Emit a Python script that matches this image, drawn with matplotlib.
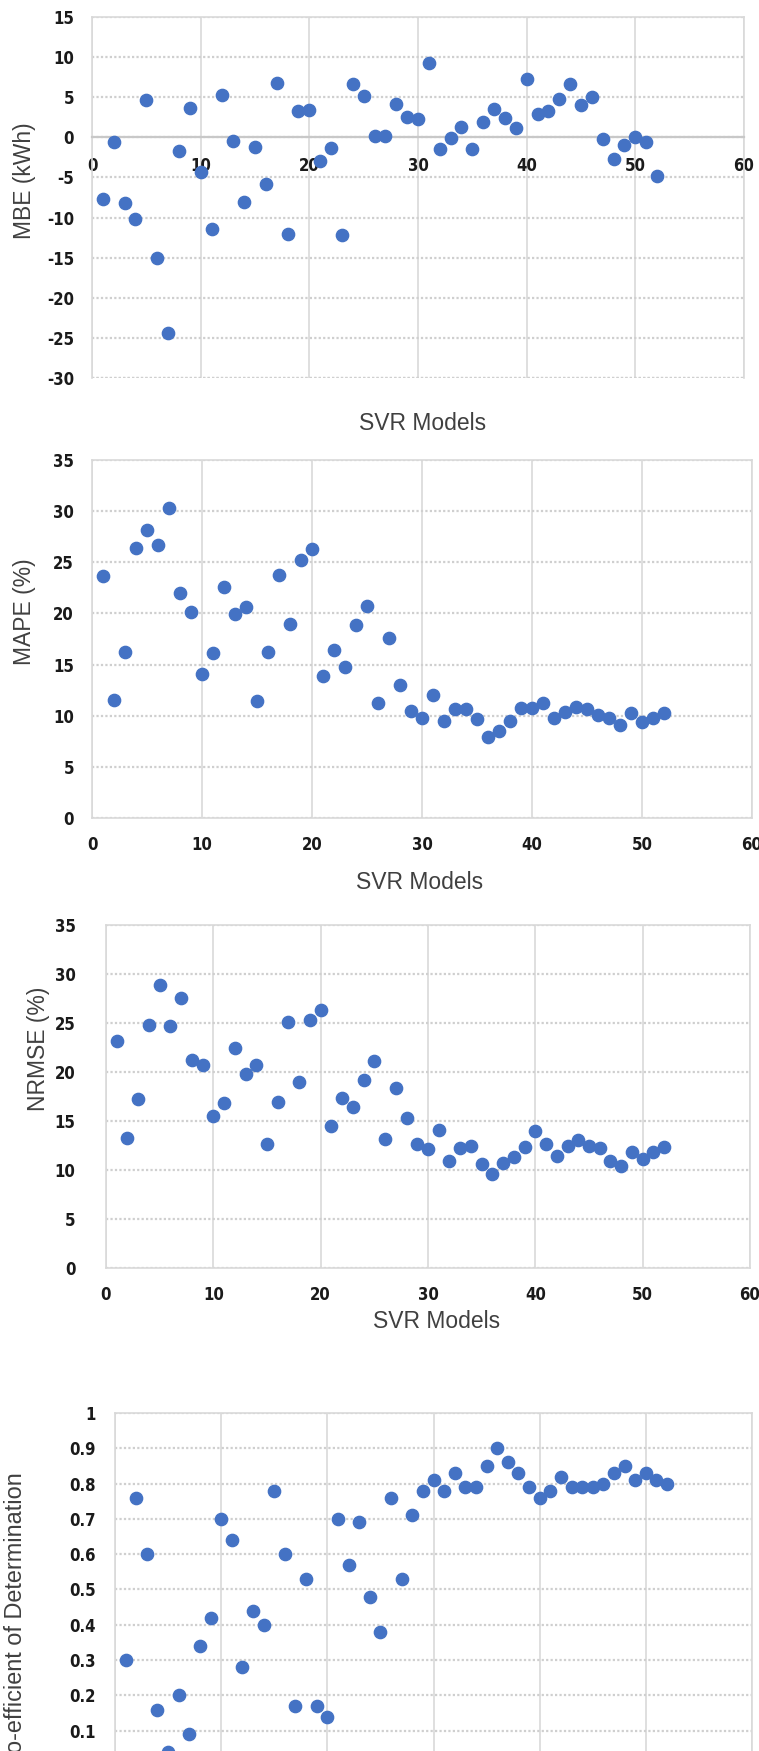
# SVR model error metrics, four stacked Excel-style scatter panels
import matplotlib.pyplot as plt
import numpy as np
from matplotlib.font_manager import FontProperties

plt.rcParams['axes.unicode_minus'] = False

models = list(range(1, 53))

mbe = [-7.7, -0.6, -8.2, -10.2, 4.6, -15.0, -24.4, -1.7, 3.6, -4.3,
       -11.4, 5.3, -0.4, -8.0, -1.2, -5.8, 6.8, -12.1, 3.3, 3.4,
       -2.9, -1.3, -12.2, 6.7, 5.1, 0.2, 0.2, 4.2, 2.5, 2.3,
       9.3, -1.4, -0.1, 1.3, -1.4, 1.9, 3.5, 2.4, 1.2, 7.3,
       2.9, 3.3, 4.8, 6.7, 4.0, 5.0, -0.2, -2.7, -1.0, 0.1,
       -0.6, -4.8]

mape = [23.7, 11.5, 16.2, 26.4, 28.2, 26.7, 30.3, 22.0, 20.1, 14.1,
        16.1, 22.6, 19.9, 20.6, 11.4, 16.2, 23.8, 19.0, 25.2, 26.3,
        13.9, 16.4, 14.8, 18.9, 20.7, 11.2, 17.6, 13.0, 10.5, 9.8,
        12.0, 9.5, 10.7, 10.7, 9.7, 7.9, 8.5, 9.5, 10.8, 10.8,
        11.2, 9.8, 10.4, 10.9, 10.7, 10.1, 9.8, 9.1, 10.3, 9.4,
        9.8, 10.3]

nrmse = [23.2, 13.3, 17.2, 24.8, 28.9, 24.7, 27.6, 21.2, 20.7, 15.5,
         16.8, 22.4, 19.8, 20.7, 12.7, 16.9, 25.1, 19.0, 25.3, 26.3,
         14.5, 17.3, 16.4, 19.2, 21.1, 13.2, 18.4, 15.3, 12.7, 12.1,
         14.1, 10.9, 12.2, 12.4, 10.6, 9.6, 10.7, 11.3, 12.3, 14.0,
         12.7, 11.4, 12.5, 13.1, 12.4, 12.2, 10.9, 10.4, 11.8, 11.1,
         11.8, 12.3]

r2 = [0.30, 0.76, 0.60, 0.16, 0.04, 0.20, 0.09, 0.34, 0.42, 0.70,
      0.64, 0.28, 0.44, 0.40, 0.78, 0.60, 0.17, 0.53, 0.17, 0.14,
      0.70, 0.57, 0.69, 0.48, 0.38, 0.76, 0.53, 0.71, 0.78, 0.81,
      0.78, 0.83, 0.79, 0.79, 0.85, 0.90, 0.86, 0.83, 0.79, 0.76,
      0.78, 0.82, 0.79, 0.79, 0.79, 0.80, 0.83, 0.85, 0.81, 0.83,
      0.81, 0.80]

W, H = 759, 1751
DOT = '#4472C4'
GRID = '#d9d9d9'
tick_font = FontProperties(family=['DejaVu Sans'], weight='bold',
                           stretch='condensed', size=12)
label_font = dict(family='Liberation Sans', color='#404040')


def box(left, top, right, bottom):
    # pixel box -> figure fraction
    return [left / W, 1 - bottom / H, (right - left) / W, (bottom - top) / H]


def panel(fig, rect, y, ylim, ystep, xpad, ypad, zero_axis=False,
          ystart=None, show_x=True):
    ax = fig.add_axes(rect)
    ax.scatter(models, y, s=78, color=DOT, zorder=3)
    ax.set_xlim(0, 60)
    ax.set_ylim(*ylim)
    for sp in ax.spines.values():
        sp.set_color(GRID)
        sp.set_linewidth(1.2)
    if zero_axis:
        ax.spines['bottom'].set_position(('data', 0))
        ax.spines['bottom'].set_color('#c8c8c8')
        ax.spines['bottom'].set_linewidth(1.6)
        ax.axhline(ylim[0], color='#cfcfcf', linestyle=(0, (1, 1)), linewidth=1.6)
    ax.set_xticks(np.arange(0, 61, 10))
    y0 = ylim[0] if ystart is None else ystart
    yt = np.arange(y0, ylim[1] + ystep / 2, ystep)
    ax.set_yticks(yt)
    ax.set_yticklabels(['{:g}'.format(round(v, 2)) for v in yt])
    ax.grid(axis='y', color='#cfcfcf', linestyle=(0, (1, 1)), linewidth=1.6)
    ax.grid(axis='x', color=GRID, linestyle='-', linewidth=1.2)
    ax.set_axisbelow(True)
    ax.tick_params(length=0)
    ax.tick_params(axis='x', pad=xpad, labelbottom=show_x)
    ax.tick_params(axis='y', pad=ypad)
    for lab in ax.get_xticklabels() + ax.get_yticklabels():
        lab.set_fontproperties(tick_font)
        lab.set_color('#1a1a1a')
    return ax


fig = plt.figure(figsize=(W / 100, H / 100), dpi=100)

panel(fig, box(92, 17, 744, 378), mbe, (-30, 15), 5, 14, 13, zero_axis=True)
panel(fig, box(92, 460, 752, 818), mape, (0, 35), 5, 13, 13)
panel(fig, box(106, 925, 750, 1268), nrmse, (0, 35), 5, 13, 22)
panel(fig, box(115, 1413, 752, 1766), r2, (0, 1), 0.1, 13, 14,
      ystart=0.1, show_x=False)


def fig_text(x, y, s, size=16.5, **kw):
    fig.text(x / W, 1 - y / H, s, fontsize=size, **label_font, **kw)


fig_text(24, 181, 'MBE (kWh)', rotation=90, ha='center', va='center')
fig_text(423, 423, 'SVR Models', ha='center', va='center')
fig_text(24, 612, 'MAPE (%)', rotation=90, ha='center', va='center')
fig_text(420, 882, 'SVR Models', ha='center', va='center')
fig_text(39, 1049, 'NRMSE (%)', rotation=90, ha='center', va='center')
fig_text(437, 1322, 'SVR Models', ha='center', va='center')
fig_text(16, 1472, 'Co-efficient of Determination', size=16.9,
         rotation=90, ha='center', va='top')

fig.savefig('out.png', dpi=100)
plt.close(fig)
